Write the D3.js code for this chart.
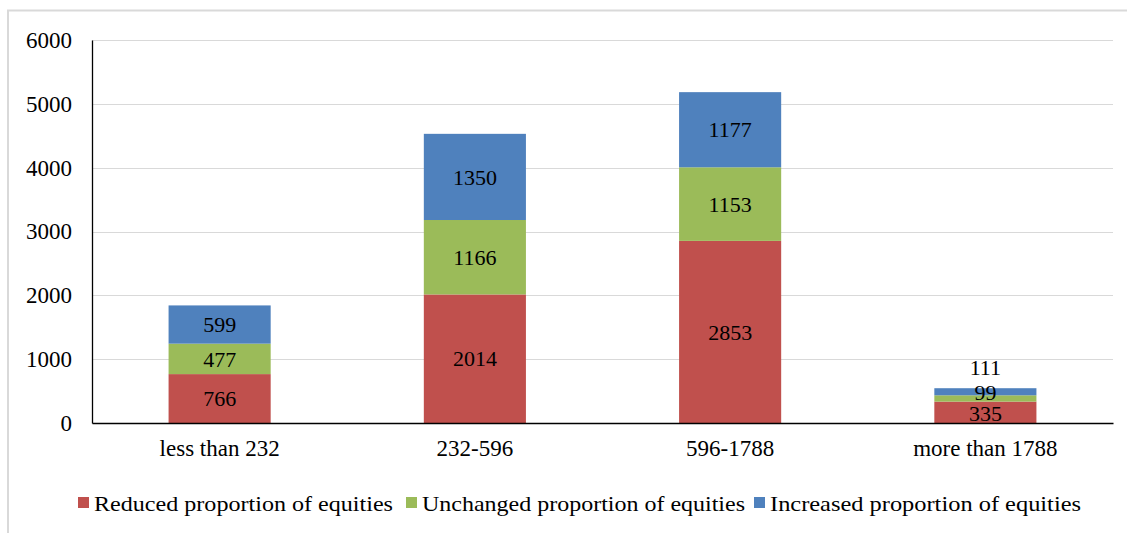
<!DOCTYPE html>
<html><head><meta charset="utf-8">
<script src="https://cdn.jsdelivr.net/npm/d3@7"></script>
<style>
html,body{margin:0;padding:0;background:#fff;}
svg text{font-family:"Liberation Serif",serif !important;fill:#000;}
</style></head>
<body>
<svg id="chart" width="1127" height="533"></svg>
<script>
const categories = ["less than 232", "232-596", "596-1788", "more than 1788"];
const seriesNames = ["Reduced proportion of equities", "Unchanged proportion of equities", "Increased proportion of equities"];
const reduced = [766, 2014, 2853, 335];
const unchanged = [477, 1166, 1153, 99];
const increased = [599, 1350, 1177, 111];
const yTicks = [0, 1000, 2000, 3000, 4000, 5000, 6000];
const colors = ["#c0504d", "#9bbb59", "#4f81bd"];

(function () {
const FONT = '"Liberation Serif", serif';
const svg = d3.select("#chart");
// outer frame (top and left)
svg.append("line").attr("x1", 7).attr("x2", 1127).attr("y1", 10.5).attr("y2", 10.5).attr("stroke", "#d9d9d9").attr("stroke-width", 2);
svg.append("line").attr("x1", 8).attr("x2", 8).attr("y1", 10).attr("y2", 533).attr("stroke", "#d9d9d9").attr("stroke-width", 2);

const pLeft = 92, pRight = 1113, pTop = 40, pBottom = 423;
const x = d3.scaleBand().domain(categories).range([pLeft, pRight]).paddingInner(0.6).paddingOuter(0.3);
const y = d3.scaleLinear().domain([0, 6000]).range([pBottom, pTop]);

// gridlines
svg.append("g").selectAll("line").data(yTicks.filter(d => d > 0)).join("line")
  .attr("x1", pLeft).attr("x2", pRight)
  .attr("y1", d => Math.round(y(d)) + 0.5).attr("y2", d => Math.round(y(d)) + 0.5)
  .attr("stroke", "#d9d9d9").attr("stroke-width", 1);

const data = categories.map((c, i) => ({cat: c, v0: reduced[i], v1: unchanged[i], v2: increased[i]}));
const stack = d3.stack().keys(["v0", "v1", "v2"])(data);

const g = svg.append("g");
stack.forEach((layer, si) => {
  g.selectAll(null).data(layer).join("rect")
    .attr("x", d => x(d.data.cat))
    .attr("width", x.bandwidth())
    .attr("y", d => y(d[1]))
    .attr("height", d => y(d[0]) - y(d[1]))
    .attr("fill", colors[si]);
});

// labels
stack.forEach((layer, si) => {
  g.selectAll(null).data(layer).join("text")
    .attr("x", d => x(d.data.cat) + x.bandwidth() / 2)
    .attr("y", (d, i) => {
      const mid = (y(d[0]) + y(d[1])) / 2;
      if (i === 3 && si === 2) return y(d[1]) - 21;
      if (i === 3 && si === 1) return mid - 6;
      if (i === 3 && si === 0) return mid + 1;
      return mid;
    })
    .attr("dy", "0.35em")
    .attr("text-anchor", "middle")
    .style("font-family", FONT)
    .style("font-size", "22px")
    .text(d => d[1] - d[0]);
});

// axes
const yAxis = d3.axisLeft(y).tickValues(yTicks).tickFormat(d3.format("d")).tickSize(0).tickPadding(20);
const ya = svg.append("g").attr("transform", `translate(${pLeft},0)`).call(yAxis);
ya.attr("font-family", null).attr("font-size", null);
ya.select(".domain").attr("stroke", "#000").attr("stroke-width", 1.3);
ya.selectAll("text").style("font-size", "23px").style("font-family", FONT);

const xAxis = d3.axisBottom(x).tickSize(0).tickPadding(17);
const xa = svg.append("g").attr("transform", `translate(0,${pBottom})`).call(xAxis);
xa.attr("font-family", null).attr("font-size", null);
xa.select(".domain").attr("stroke", "#000").attr("stroke-width", 1.3);
xa.selectAll("text").style("font-size", "23px").style("font-family", FONT);

// legend
const legendX = [78, 406, 754];
const legendW = [299, 323, 311];
const lg = svg.append("g");
seriesNames.forEach((name, i) => {
  lg.append("rect").attr("x", legendX[i]).attr("y", 497).attr("width", 11).attr("height", 11).attr("fill", colors[i]);
  lg.append("text").attr("x", legendX[i] + 16).attr("y", 503).attr("dy", "0.35em")
    .style("font-size", "22px").style("font-family", FONT)
    .attr("textLength", legendW[i]).attr("lengthAdjust", "spacingAndGlyphs").text(name);
});
})();
</script>
</body></html>
